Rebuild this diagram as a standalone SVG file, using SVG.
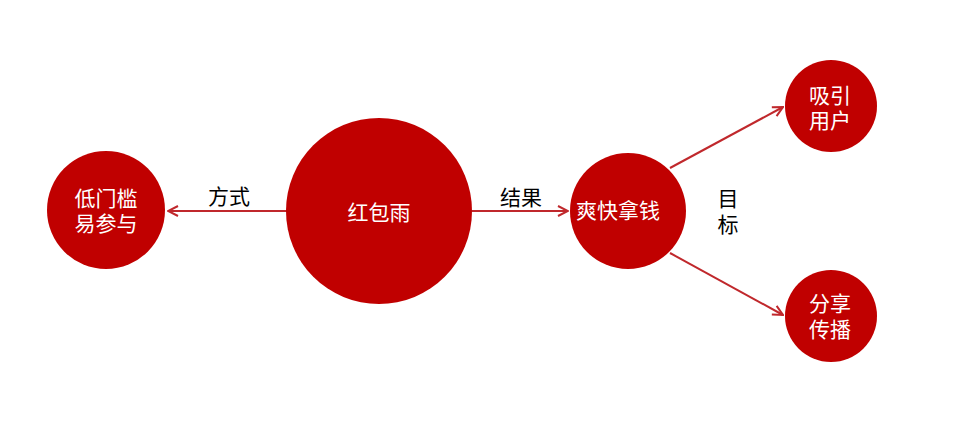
<svg xmlns="http://www.w3.org/2000/svg" width="965" height="440" viewBox="0 0 965 440">
<style>
.node{fill:#c00000}
.nt{fill:#ffffff;font-family:"Liberation Sans","Noto Sans CJK SC",sans-serif;font-size:21px;text-anchor:middle;dominant-baseline:central}
.lt{fill:#000000;font-family:"Liberation Sans","Noto Sans CJK SC",sans-serif;font-size:21px;text-anchor:middle;dominant-baseline:central}
.edge{stroke:#c0282c;stroke-width:2;fill:none;marker-end:url(#arr)}
</style>
<defs>
<marker id="arr" viewBox="0 0 12 12" refX="11" refY="6" markerWidth="12" markerHeight="12" markerUnits="userSpaceOnUse" orient="auto">
<path d="M1,1 L11,6 L1,11" fill="none" stroke="#c0282c" stroke-width="2"/>
</marker>
</defs>
<rect width="965" height="440" fill="#ffffff"/>
<g id="connectors">
<line class="edge" x1="287" y1="211" x2="168" y2="211"/>
<line class="edge" x1="472" y1="211" x2="568" y2="211"/>
<line class="edge" x1="670" y1="168" x2="783" y2="107"/>
<line class="edge" x1="670" y1="253" x2="783" y2="315"/>
<text class="lt" x="229" y="196">方式</text>
<text class="lt" x="521" y="197">结果</text>
<text class="lt" x="728" y="198">目</text>
<text class="lt" x="728" y="224">标</text>
</g>
<g id="n-low">
<circle class="node" cx="106" cy="210" r="59"/>
<text class="nt" x="106" y="198">低门槛</text>
<text class="nt" x="106" y="223">易参与</text>
</g>
<g id="n-main">
<circle class="node" cx="379" cy="211" r="93"/>
<text class="nt" x="379" y="212">红包雨</text>
</g>
<g id="n-fast">
<circle class="node" cx="628" cy="211" r="58"/>
<text class="nt" x="618" y="210">爽快拿钱</text>
</g>
<g id="n-attract">
<circle class="node" cx="831" cy="106" r="46"/>
<text class="nt" x="830" y="95">吸引</text>
<text class="nt" x="830" y="120">用户</text>
</g>
<g id="n-share">
<circle class="node" cx="831" cy="316" r="46"/>
<text class="nt" x="830" y="303">分享</text>
<text class="nt" x="830" y="329">传播</text>
</g>
</svg>
